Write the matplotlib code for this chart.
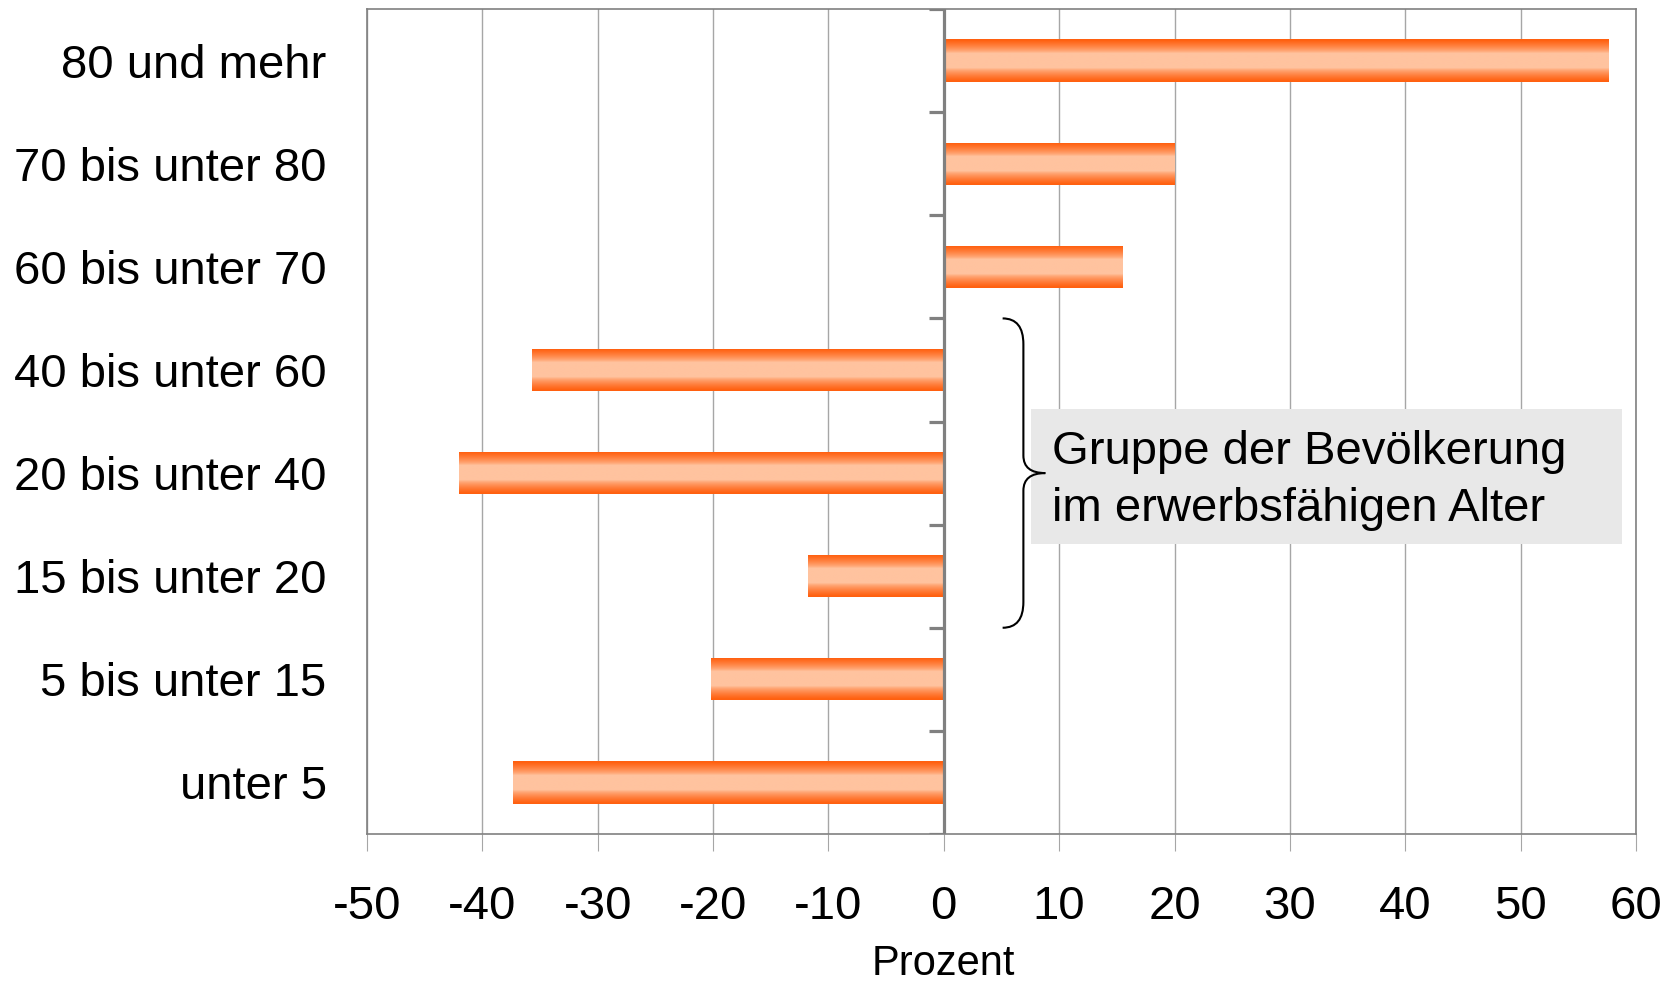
import numpy as np
import matplotlib
matplotlib.use("Agg")
import matplotlib.pyplot as plt
from matplotlib.colors import LinearSegmentedColormap
from matplotlib.path import Path
from matplotlib.patches import PathPatch, Rectangle

plt.rcParams['font.family'] = ['Liberation Sans', 'DejaVu Sans']

# --- Daten (von unten nach oben) ---
altersgruppen = ["unter 5", "5 bis unter 15", "15 bis unter 20", "20 bis unter 40",
                 "40 bis unter 60", "60 bis unter 70", "70 bis unter 80", "80 und mehr"]
veraenderung = [-37.3, -20.2, -11.8, -42.0, -35.7, 15.5, 20.0, 57.6]
x_ticks = list(range(-50, 61, 10))
klammer_von, klammer_bis = 1.5, 4.5   # Gruppe im erwerbsfähigen Alter
box_text = "Gruppe der Bevölkerung\nim erwerbsfähigen Alter"

fig = plt.figure(figsize=(16.74, 9.82), dpi=100)
ax = fig.add_axes([0.2192, 0.1507, 0.7581, 0.8401])

y = np.arange(len(altersgruppen))
bars = ax.barh(y, veraenderung, height=0.41, color='none', edgecolor='none', zorder=3)

# Farbverlauf: Rand kräftig orange, Mitte hell
v = np.linspace(-1, 1, 200)
f = np.clip((np.abs(v) - 0.35) / 0.6, 0, 1) ** 0.7
cmap = LinearSegmentedColormap.from_list("bar", ["#FFC39F", "#FF6010"])
grad = f.reshape(-1, 1)
for b in bars:
    x0, y0 = b.get_x(), b.get_y()
    w, h = b.get_width(), b.get_height()
    im = ax.imshow(grad, extent=[x0, x0 + w, y0, y0 + h], cmap=cmap, vmin=0, vmax=1,
                   aspect='auto', origin='lower', zorder=3, interpolation='bilinear')
    im.set_clip_path(b)

ax.set_xlim(-50, 60)
ax.set_ylim(-0.5, len(altersgruppen) - 0.5)

# Gitter und Achsen
ax.set_xticks(x_ticks)
ax.set_xticklabels([str(t) for t in x_ticks])
ax.grid(axis='x', color='#A6A6A6', linewidth=1.0, zorder=0)
ax.set_axisbelow(True)
ax.tick_params(axis='x', length=12, width=0.8, color='#A6A6A6', pad=25, labelsize=34)
ax.set_yticks(y)
ax.set_yticklabels(altersgruppen)
ax.tick_params(axis='y', length=0, pad=29, labelsize=34)
for s in ax.spines.values():
    s.set_color('#808080')
    s.set_linewidth(1.2)

# Nulllinie mit Teilstrichen zwischen den Kategorien
ax.axvline(0, color='#808080', linewidth=2.3, zorder=4)
grenzen = np.arange(len(altersgruppen) + 1) - 0.5
ax.hlines(grenzen, -1.3, 0, color='#808080', linewidth=2.3, zorder=4)

# Achsentitel unter der Nulllinie (wie im Original)
ax.set_xlabel("Prozent", fontsize=30)
ax.xaxis.set_label_coords(50 / 110, -0.158)
ax.xaxis.label.set_va('center')

# Geschweifte Klammer
xa, xb, xc = 5.1, 6.9, 8.8
ym = (klammer_von + klammer_bis) / 2
r, rm = 0.25, 0.17
verts = [(xa, klammer_bis), (xb, klammer_bis), (xb, klammer_bis - r),
         (xb, ym + rm), (xb, ym), (xc, ym),
         (xb, ym), (xb, ym - rm),
         (xb, klammer_von + r), (xb, klammer_von), (xa, klammer_von)]
codes = [Path.MOVETO, Path.CURVE3, Path.CURVE3,
         Path.LINETO, Path.CURVE3, Path.CURVE3,
         Path.CURVE3, Path.CURVE3,
         Path.LINETO, Path.CURVE3, Path.CURVE3]
ax.add_patch(PathPatch(Path(verts, codes), facecolor='none', edgecolor='black',
                       linewidth=1.5, zorder=5))

# Textkasten
ax.add_patch(Rectangle((0.523, 0.352), 0.466, 0.163, transform=ax.transAxes,
                       facecolor='#E8E8E8', edgecolor='none', zorder=2))
ax.text(0.540, 0.428, box_text, transform=ax.transAxes, fontsize=34,
        va='center', ha='left', linespacing=1.38, zorder=6)

fig.savefig("out.png", dpi=100)
